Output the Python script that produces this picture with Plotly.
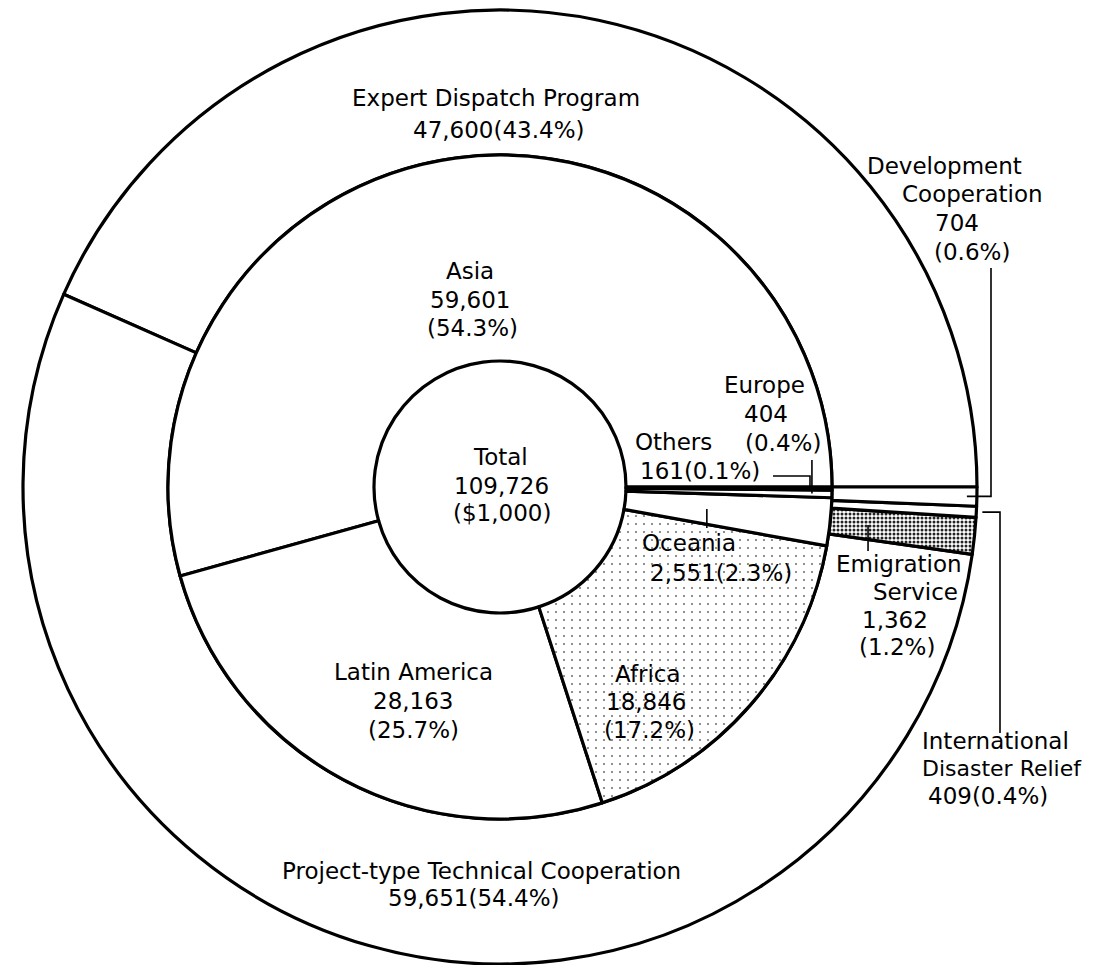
import plotly.graph_objects as go
import math

# ---------------- data ----------------
program_labels = ["Expert Dispatch Program", "Project-type Technical Cooperation",
                  "Emigration Service", "International Disaster Relief",
                  "Development Cooperation"]
program_values = [47600, 59651, 1362, 409, 704]

region_labels = ["Asia", "Latin America", "Africa", "Oceania", "Europe", "Others"]
region_values = [59601, 28163, 18846, 2551, 404, 161]

total_value = 109726
total_unit = "($1,000)"

# ---------------- layout constants ----------------
OFF = 8                      # default page body margin of the html page
PAGE_W, PAGE_H = 1097, 965
W, H = PAGE_W - OFF, PAGE_H - OFF
CX, CY = 500, 487            # page pixel coordinates of the chart centre
R_OUT, R_MID, R_HOLE = 477, 332, 126
FONT = "DejaVu Sans"
FS = 23


def px(x, y):
    """page pixel -> paper coordinates"""
    return (x - OFF) / W, 1 - (y - OFF) / H


def dom(r):
    x0, y1 = px(CX - r, CY - r)
    x1, y0 = px(CX + r, CY + r)
    return dict(x=[x0, x1], y=[y0, y1])


def start_rotation(values):
    # plotly counterclockwise: first slice lies clockwise of `rotation`;
    # we want the first slice to begin at 3 o'clock and run counterclockwise
    return 90 - 360 * values[0] / sum(values)


def mid_point(values, i, r):
    tot = sum(values)
    f = (sum(values[:i]) + values[i] / 2) / tot
    a = math.radians(360 * f)
    return CX + r * math.cos(a), CY - r * math.sin(a)


def num(v):
    return f"{v:,}"


def pct(v):
    return f"({v / total_value * 100:.1f}%)"


fig = go.Figure()

prog_pattern = ["", "", ".", "", ""]
fig.add_trace(go.Pie(
    labels=program_labels, values=program_values, sort=False,
    direction="counterclockwise", rotation=start_rotation(program_values),
    hole=R_MID / R_OUT,
    domain=dom(R_OUT), textinfo="none", hoverinfo="none", showlegend=False,
    marker=dict(colors=["white"] * len(program_values),
                line=dict(color="black", width=3.2),
                pattern=dict(shape=prog_pattern, fgcolor="#222", bgcolor="white",
                             size=4, solidity=0.45)),
))

reg_pattern = ["", "", ".", "", "", ""]
fig.add_trace(go.Pie(
    labels=region_labels, values=region_values, sort=False,
    direction="counterclockwise", rotation=start_rotation(region_values),
    hole=R_HOLE / R_MID,
    domain=dom(R_MID), textinfo="none", hoverinfo="none", showlegend=False,
    marker=dict(colors=["white"] * len(region_values),
                line=dict(color="black", width=3.2),
                pattern=dict(shape=reg_pattern, fgcolor="#777", bgcolor="white",
                             size=8, solidity=0.06)),
))

# ---------------- label texts ----------------
P = dict(zip(program_labels, program_values))
Rg = dict(zip(region_labels, region_values))

# (text, x, y, anchor, font size)
lines = [
    ("Expert Dispatch Program", 496, 98, "center", FS),
    (num(P["Expert Dispatch Program"]) + pct(P["Expert Dispatch Program"]), 499, 130, "center", FS),
    ("Development", 944, 166, "center", FS),
    ("Cooperation", 972, 194, "center", FS),
    (num(P["Development Cooperation"]), 957, 223, "center", FS),
    (pct(P["Development Cooperation"]), 972, 252, "center", FS),
    ("Asia", 470, 271, "center", FS),
    (num(Rg["Asia"]), 470, 300, "center", FS),
    (pct(Rg["Asia"]), 472, 328, "center", FS),
    ("Europe", 764, 385, "center", FS),
    (num(Rg["Europe"]), 766, 414, "center", FS),
    (pct(Rg["Europe"]), 783, 443, "center", FS),
    ("Others", 673, 442, "center", FS),
    (num(Rg["Others"]) + pct(Rg["Others"]), 700, 471, "center", FS),
    ("Total", 500, 457, "center", FS),
    (num(total_value), 501, 486, "center", FS),
    (total_unit, 502, 513, "center", FS),
    ("Oceania", 689, 543, "center", FS),
    (num(Rg["Oceania"]) + pct(Rg["Oceania"]), 721, 573, "center", FS),
    ("Emigration", 899, 564, "center", FS),
    ("Service", 915, 592, "center", FS),
    (num(P["Emigration Service"]), 895, 620, "center", FS),
    (pct(P["Emigration Service"]), 897, 647, "center", FS),
    ("Latin America", 414, 672, "center", FS),
    (num(Rg["Latin America"]), 413, 701, "center", FS),
    (pct(Rg["Latin America"]), 413, 730, "center", FS),
    ("Africa", 648, 674, "center", FS),
    (num(Rg["Africa"]), 646, 702, "center", FS),
    (pct(Rg["Africa"]), 649, 730, "center", FS),
    ("International", 920, 741, "left", FS),
    ("Disaster Relief", 920, 768, "left", FS - 1),
    (num(P["International Disaster Relief"]) + pct(P["International Disaster Relief"]), 926, 796, "left", FS),
    ("Project-type Technical Cooperation", 481, 871, "center", FS),
    (num(P["Project-type Technical Cooperation"]) + pct(P["Project-type Technical Cooperation"]), 474, 898, "center", FS),
]

annotations = []
for text, x, y, anchor, size in lines:
    xp, yp = px(x, y)
    annotations.append(dict(text=text, x=xp, y=yp, xref="paper", yref="paper",
                            xanchor=anchor, yanchor="middle", showarrow=False,
                            font=dict(family=FONT, size=size, color="black")))

# ---------------- leader lines ----------------
def path(points):
    s = ""
    for k, (x, y) in enumerate(points):
        xp, yp = px(x, y)
        s += ("M" if k == 0 else "L") + f"{xp},{yp} "
    return s.strip()


leaders = []
dx, dy = mid_point(program_values, 4, R_OUT - 10)
leaders.append([(dx, dy), (991, dy), (991, 268)])
ix, iy = mid_point(program_values, 3, R_OUT + 6)
leaders.append([(ix, iy), (1000, iy), (1000, 733)])
ex, ey = mid_point(program_values, 2, 370)
leaders.append([(ex, ey), (ex, 551)])
ox, oy = mid_point(region_values, 3, 208)
leaders.append([(ox, oy), (ox, 528)])
eux, euy = mid_point(region_values, 4, 312)
leaders.append([(eux, euy), (eux, 460)])
otx, oty = mid_point(region_values, 5, 310)
leaders.append([(otx, oty), (otx, 476), (773, 476)])

shapes = [dict(type="path", path=path(pts), xref="paper", yref="paper",
               line=dict(color="black", width=1.6)) for pts in leaders]

fig.update_layout(
    width=W, height=H, autosize=False,
    margin=dict(l=0, r=0, t=0, b=0),
    paper_bgcolor="white", plot_bgcolor="white",
    annotations=annotations, shapes=shapes, showlegend=False,
)

fig.write_html("out.html")
